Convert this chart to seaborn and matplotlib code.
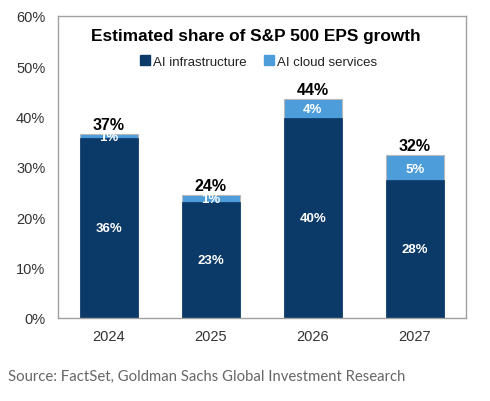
import numpy as np
import pandas as pd
import seaborn as sns
import matplotlib.pyplot as plt

sns.set_style("white")
plt.rcParams['font.family'] = ['Liberation Sans', 'DejaVu Sans']

years = ['2024', '2025', '2026', '2027']
infra = [35.8, 23.0, 39.7, 27.3]
cloud = [0.7, 1.5, 3.8, 5.1]
infra_labels = ['36%', '23%', '40%', '28%']
cloud_labels = ['1%', '1%', '4%', '5%']
total_labels = ['37%', '24%', '44%', '32%']
yticks = [0, 10, 20, 30, 40, 50, 60]

dark = '#0b3a69'
light = '#4d9ddb'

df = pd.DataFrame({'year': years, 'infra': infra, 'cloud': cloud})
df['total'] = df['infra'] + df['cloud']

fig = plt.figure(figsize=(4.9, 4.02), dpi=100)
ax = fig.add_axes([0.118, 0.2065, 0.833, 0.752])

# stacked bars: total first (light), infra over it (dark)
sns.barplot(data=df, x='year', y='total', color=light, width=0.57,
            edgecolor='#b8b8b8', linewidth=0.8, saturation=1, ax=ax)
sns.barplot(data=df, x='year', y='infra', color=dark, width=0.57,
            edgecolor=dark, linewidth=0.5, saturation=1, ax=ax)

for i, row in df.iterrows():
    ax.text(i, row['infra'] / 2, infra_labels[i], ha='center', va='center',
            color='white', fontsize=9.5, fontweight='bold')
    ax.text(i, row['infra'] + row['cloud'] / 2 - 0.2, cloud_labels[i],
            ha='center', va='center', color='white', fontsize=9.5, fontweight='bold')
    ax.text(i, row['total'] + 0.4, total_labels[i], ha='center', va='bottom',
            color='black', fontsize=11.5, fontweight='bold')

ax.set_ylim(0, 60)
ax.set_xlim(-0.5, 3.5)
ax.set_yticks(yticks)
ax.set_yticklabels([f'{t}%' for t in yticks])
ax.set_xlabel('')
ax.set_ylabel('')
ax.tick_params(axis='both', length=0, labelsize=10.5, labelcolor='#333333')
ax.tick_params(axis='y', pad=9)
ax.tick_params(axis='x', pad=8)
for s in ax.spines.values():
    s.set_color('#a0a0a0')
    s.set_linewidth(1.0)

ax.text(0.485, 0.934, 'Estimated share of S&P 500 EPS growth', transform=ax.transAxes,
        ha='center', va='center', fontsize=12.4, fontweight='bold', color='black')

handles = [plt.Line2D([], [], marker='s', linestyle='', markersize=6.5, color=dark),
           plt.Line2D([], [], marker='s', linestyle='', markersize=6.5, color=light)]
ax.legend(handles, ['AI infrastructure', 'AI cloud services'], loc='center',
          bbox_to_anchor=(0.49, 0.848), ncol=2, frameon=False, fontsize=9.5,
          handletextpad=0.1, columnspacing=1.2, handlelength=1.0, labelcolor='#222222')

fig.text(0.016, 1 - 377 / 402, 'Source: FactSet, Goldman Sachs Global Investment Research',
         fontsize=10.7, color='#666666', va='center', family=['Lato', 'DejaVu Sans'])

fig.savefig('out.png', dpi=100)
